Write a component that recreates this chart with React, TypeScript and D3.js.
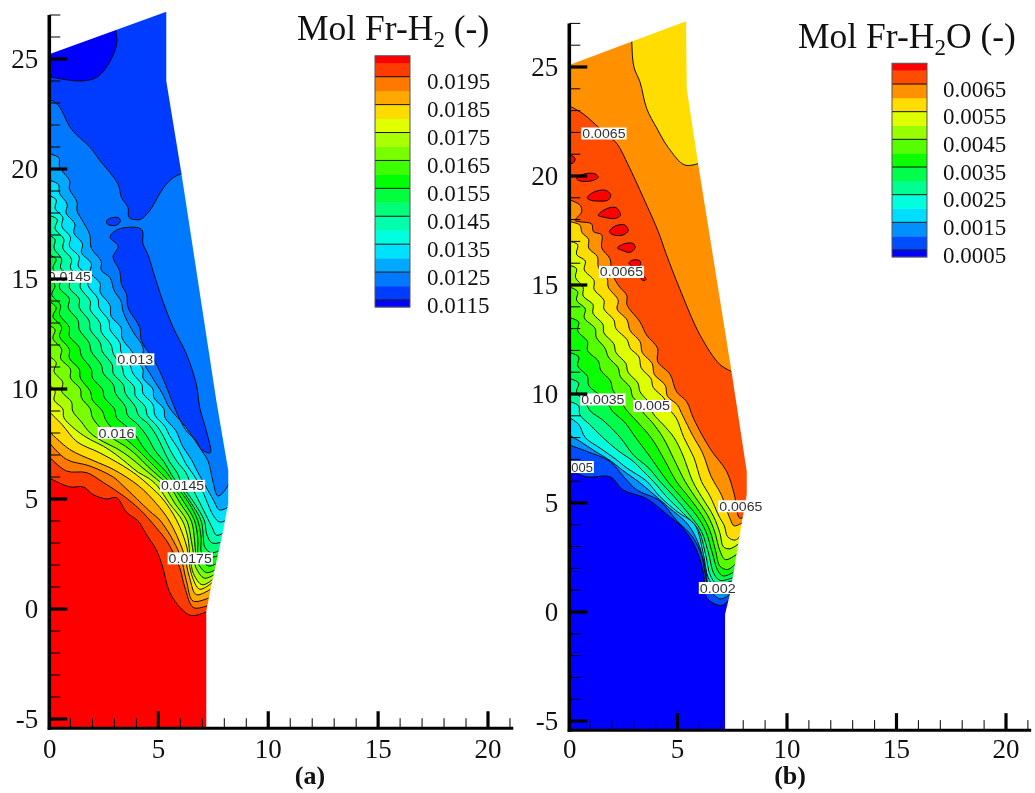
import React from "react";
import * as d3 from "d3";

type P = [number, number];

// ---------- Panel (a): Mol Fr-H2 ----------
const domainA: P[] = [[0,-5.45],[7.18,-5.45],[7.18,-0.1],[7.48,1.42],[7.94,3.55],[8.18,4.8],[8.18,6.3],[7.64,9.45],[6.05,19.8],[5.36,24],[5.36,27.15],[0,25.2]];
const ticksLabelA = [-5,0,5,10,15,20,25];
const legendLevelsA = [0.0115,0.0125,0.0135,0.0145,0.0155,0.0165,0.0175,0.0185,0.0195];
const legendColorsA = ["#0000ff","#003cff","#0078ff","#00a8ff","#00e0ff","#00ffe0","#00ffaa","#00ff78","#00ff3c","#00ff00","#3cff00","#78ff00","#aaff00","#e0ff00","#ffdc00","#ffa800","#ff7800","#ff3c00","#ff0000"];

const a0115: P[] = [[0,24.2],[1.5,24.0],[2.25,24.2],[2.86,25],[3.12,25.8],[3.06,26.3],[3.06,28]];
const a012: P[] = [[0,23.2],[0.44,22.9],[1.05,21.8],[1.88,21],[2.33,20.4],[3.17,19.3],[3.32,18.7],[3.62,18.25],[3.67,17.8],[4.15,17.7],[4.6,18.1],[5.2,19.1],[5.67,19.6],[6.2,19.85]];
const a012Island: P[] = [[2.8,16.9],[3.17,17.26],[4.23,17.26],[4.3,16.6],[4.53,16.1],[4.76,15.36],[5.2,14.0],[5.67,12.8],[6.27,11.6],[6.73,10.2],[6.88,9.15],[7.18,8.1],[7.36,7.1],[6.95,7.26],[6.73,7.64],[6.27,8.1],[5.8,9],[5.5,9.76],[5.2,10.5],[4.83,11.27],[4.23,12.2],[4.15,12.8],[3.62,13.7],[3.55,14.3],[3.32,14.76],[3.24,15.36],[2.94,16],[3.17,16.5]];
const a012Small: P[] = [[2.64,17.64],[2.8,17.76],[3.17,17.79],[3.27,17.64],[3.1,17.45],[2.7,17.48]];
const a0125: P[] = [[0,20.7],[0.48,20.5],[0.5,20.1],[0.97,19.45],[0.95,19.1],[1.3,18.5],[1.3,18.1],[1.58,17.6],[1.88,17.0],[1.95,16.4],[2.4,15.8],[2.4,15.4],[2.8,15.06],[3.0,14.45],[3.3,14.0],[3.4,13.5],[3.85,12.6],[4.3,11.9],[4.3,11.3],[4.68,10.6],[5.2,9.76],[5.5,9.15],[6.27,8.24],[6.88,7.33],[7.26,6.73],[7.48,5.82],[7.7,5.14],[7.95,5.3],[8.3,5.85]];
const a013: P[] = [[0,19.5],[0.45,19.3],[0.5,18.9],[0.85,18.4],[0.8,18.0],[1.2,17.5],[1.15,17.1],[1.55,16.6],[1.5,16.2],[1.95,15.7],[1.9,15.3],[2.35,14.8],[2.35,14.4],[2.8,13.8],[2.85,13.3],[3.3,12.8],[3.35,12.3],[3.8,11.7],[3.95,11.35],[4.3,10.9],[4.3,10.5],[4.75,10.0],[4.8,9.6],[5.25,9.1],[5.3,8.7],[5.8,8.1],[6.1,7.4],[6.5,6.8],[6.75,6.3],[7.03,5.8],[7.48,5.0],[7.79,4.5],[8.3,4.7]];
const a0135: P[] = [[0,18.8],[0.35,18.6],[0.3,18.2],[0.65,17.8],[0.6,17.4],[1.0,16.9],[0.95,16.5],[1.4,16.0],[1.35,15.6],[1.8,15.1],[1.8,14.7],[2.25,14.1],[2.3,13.7],[2.75,13.1],[2.8,12.7],[3.25,12.1],[3.3,11.7],[3.7,11.1],[3.85,10.7],[4.25,10.2],[4.3,9.8],[4.75,9.3],[4.85,8.8],[5.3,8.3],[5.5,7.9],[5.95,7.2],[6.25,6.6],[6.6,6.1],[6.95,5.5],[7.2,4.9],[7.5,4.25],[7.8,3.95],[8.3,4.15]];
const a014: P[] = [[0,17.9],[0.4,17.7],[0.3,17.3],[0.7,16.8],[0.65,16.4],[1.05,15.9],[1.0,15.5],[1.45,15.0],[1.45,14.6],[1.9,14.0],[1.9,13.6],[2.35,13.0],[2.4,12.6],[2.85,12.0],[2.95,11.6],[3.35,11.0],[3.45,10.6],[3.9,10.1],[3.95,9.7],[4.4,9.2],[4.5,8.8],[4.95,8.3],[5.2,7.9],[5.55,7.2],[5.85,6.7],[6.25,6.2],[6.5,5.6],[6.85,4.9],[7.25,4.1],[7.45,3.7],[7.65,3.35],[8.2,3.6]];
const a0145: P[] = [[0,17.0],[0.3,16.8],[0.25,16.4],[0.6,15.9],[0.55,15.5],[1.0,15.1],[0.95,14.6],[1.4,14.1],[1.4,13.7],[1.85,13.1],[1.9,12.7],[2.35,12.1],[2.45,11.7],[2.9,11.1],[2.95,10.7],[3.4,10.2],[3.5,9.8],[3.95,9.2],[4.1,8.8],[4.55,8.4],[4.9,7.9],[5.2,7.3],[5.5,6.7],[5.85,6.2],[6.1,5.6],[6.65,4.8],[7.1,4.0],[7.2,3.4],[7.45,3.0],[8.1,3.1]];
const a015: P[] = [[0,16.1],[0.35,15.9],[0.2,15.5],[0.55,15.0],[0.5,14.6],[0.95,14.1],[0.9,13.7],[1.35,13.1],[1.4,12.7],[1.85,12.1],[1.95,11.7],[2.4,11.1],[2.5,10.7],[2.95,10.2],[3.05,9.8],[3.5,9.2],[3.6,8.8],[4.05,8.4],[4.45,7.9],[4.85,7.2],[5.25,6.7],[5.6,6.1],[5.95,5.6],[6.5,4.8],[6.95,4.0],[7.05,3.2],[7.1,2.85],[7.4,2.55],[7.95,2.75]];
const a0155: P[] = [[0,15.0],[0.3,14.7],[0.15,14.3],[0.55,13.8],[0.5,13.4],[0.95,12.8],[0.95,12.4],[1.4,11.9],[1.5,11.5],[1.95,10.9],[2.0,10.5],[2.45,10.0],[2.55,9.6],[3.0,9.1],[3.1,8.7],[3.55,8.3],[3.95,7.9],[4.35,7.3],[4.8,6.8],[5.3,6.3],[5.8,5.6],[6.4,4.8],[6.8,4.0],[6.95,3.2],[6.95,2.6],[7.2,2.35],[7.85,2.45]];
const a016: P[] = [[0,14.0],[0.35,13.7],[0.2,13.3],[0.6,12.8],[0.5,12.4],[0.95,11.8],[0.95,11.4],[1.4,10.9],[1.45,10.5],[1.9,9.9],[2.0,9.5],[2.45,9.0],[2.6,8.6],[3.1,8.0],[3.55,7.7],[4.0,7.3],[4.5,6.8],[5.0,6.3],[5.65,5.6],[6.2,4.8],[6.65,4.0],[6.8,3.1],[6.8,2.5],[7.0,2.2],[7.3,1.95],[7.8,2.15]];
const a0165: P[] = [[0,12.9],[0.3,12.7],[0.2,12.3],[0.6,11.8],[0.55,11.4],[1.0,10.9],[1.0,10.5],[1.45,10.0],[1.5,9.6],[1.9,9.1],[2.0,8.7],[2.5,8.1],[3.0,7.7],[3.5,7.4],[4.0,7.0],[4.5,6.5],[5.0,6.05],[5.5,5.6],[6.0,4.8],[6.5,4.0],[6.65,3.1],[6.7,2.5],[6.85,2.0],[7.2,1.65],[7.7,1.85]];
const a017: P[] = [[0,11.5],[0.35,11.2],[0.25,10.8],[0.65,10.3],[0.6,9.9],[1.05,9.4],[1.1,9.0],[1.5,8.5],[1.9,8.0],[2.5,7.6],[3.1,7.3],[3.7,6.9],[4.3,6.4],[4.8,6.0],[5.25,5.6],[5.75,4.8],[6.3,4.0],[6.5,3.1],[6.6,2.5],[6.7,1.9],[7.1,1.4],[7.6,1.6]];
const a0175: P[] = [[0,10.2],[0.3,9.9],[0.25,9.5],[0.65,9.1],[0.7,8.7],[1.3,8.1],[1.9,7.7],[2.5,7.4],[3.1,7.0],[3.6,6.6],[4.1,6.2],[4.55,5.95],[4.95,5.6],[5.5,4.8],[6.1,4.0],[6.35,3.2],[6.45,2.3],[6.6,1.6],[7.0,1.1],[7.55,1.4]];
const a018: P[] = [[0,9],[0.6,8.4],[1.3,7.6],[2.33,7.1],[3.4,6.5],[4.0,6.1],[4.6,5.6],[5.2,5.0],[5.85,4.0],[6.3,2.8],[6.5,1.6],[6.88,0.9],[7.45,1.2]];
const a0185: P[] = [[0,8.1],[0.97,7.25],[2.03,6.75],[2.94,6.35],[4.1,5.6],[4.9,4.8],[5.5,4.0],[6.12,2.64],[6.42,1.42],[6.73,0.65],[7.37,0.9]];
const a019: P[] = [[0,7.6],[0.82,6.8],[1.88,6.5],[2.94,6.0],[3.4,5.6],[4.6,4.45],[5.1,4.0],[5.97,2.5],[6.27,1.3],[6.58,0.36],[7.29,0.5]];
const a0195: P[] = [[0,6.95],[0.82,6.27],[1.73,6.2],[2.48,5.76],[3.4,5.15],[4.15,4.53],[4.9,3.7],[5.44,3.0],[5.97,1.88],[6.2,1.0],[6.6,0.06],[7.22,0.15]];
const a020: P[] = [[0,5.97],[0.97,5.55],[1.58,5.55],[2.03,5.2],[2.64,5.0],[3.1,5.06],[3.55,4.4],[4.08,4.0],[4.45,3.4],[4.9,2.7],[5.2,1.9],[5.5,0.8],[6,0.06],[6.5,-0.3],[7.25,-0.1]];
const labelsA: [string, number, number][] = [["0.0145",0.95,15.1],["0.013",3.95,11.35],["0.016",3.1,8.0],["0.0145",6.1,5.6],["0.0175",6.45,2.3]];

// ---------- Panel (b): Mol Fr-H2O ----------
const domainB: P[] = [[0,-5.45],[7.08,-5.45],[7.08,-0.1],[7.3,0.8],[7.7,3.25],[8.07,5.4],[8.07,6.45],[7.38,11],[5.86,20.5],[5.33,24],[5.3,27.1],[0,25.1]];
const ticksLabelB = [-5,0,5,10,15,20,25];
const legendLevelsB = [0.0005,0.0015,0.0025,0.0035,0.0045,0.0055,0.0065];
const legendColorsB = ["#0000ff","#004cff","#0090ff","#00ddff","#00ffdd","#00ff90","#00ff4c","#0cff00","#55ff00","#99ff00","#ddff00","#ffdd00","#ff9000","#ff4c00","#ff0000"];

const b006Upper: P[] = [[2.82,28],[2.82,26.2],[2.92,25],[3.2,24.3],[3.5,23.1],[3.96,22.2],[4.49,21.3],[5.25,20.5],[5.95,20.6]];
const b0065Upper: P[] = [[0,23.2],[0.6,22.85],[1.45,22.1],[2.13,21.5],[2.66,20.5],[3.35,19],[4.03,17.45],[4.4,16.4],[5.0,14.85],[5.94,12.7],[6.85,11.35],[7.45,11]];
const blobs: P[][] = [
  [[-0.1,21.0],[0.23,20.8],[0.15,20.6],[-0.1,20.6]],
  [[0.3,19.9],[0.68,20.1],[1.14,20.1],[1.29,19.95],[1.07,19.8],[0.68,19.75],[0.38,19.8]],
  [[0.79,19],[1.06,19.25],[1.6,19.35],[1.86,19.15],[1.75,18.9],[1.22,18.85],[0.91,18.9]],
  [[1.29,18.2],[1.67,18.5],[2.1,18.55],[2.31,18.2],[2.05,18.05],[1.6,18.1]],
  [[1.8,17.45],[2.05,17.7],[2.51,17.75],[2.66,17.5],[2.44,17.3],[1.98,17.3]],
  [[2.16,16.7],[2.51,16.9],[2.89,16.9],[2.97,16.7],[2.74,16.5],[2.36,16.6]],
  [[2.69,16],[2.89,16.15],[3.2,16.1],[3.2,15.9],[2.89,15.85]],
  [[3.24,15.3],[3.38,15.4],[3.47,15.25],[3.35,15.2]],
];
const b0065: P[] = [[0,18.9],[0.46,18.66],[0.53,18.35],[0.23,17.96],[0.46,17.9],[0.99,17.8],[1.07,17.45],[1.45,17.3],[1.45,16.7],[1.83,16.2],[1.9,15.6],[2.2,15.0],[2.6,14.5],[2.6,14.1],[3.2,13.3],[3.5,12.7],[4.0,12.1],[4.0,11.5],[4.57,10.9],[4.87,10.1],[5.33,9.65],[5.63,8.9],[6.39,7.5],[7.15,6.45],[7.5,5.4],[7.76,4.3],[8.2,4.55]];
const b006: P[] = [[0,17.9],[0.45,17.75],[0.55,17.4],[0.85,17.1],[0.85,16.7],[1.25,16.3],[1.3,15.8],[1.7,15.3],[1.75,14.9],[2.2,14.3],[2.15,13.9],[2.6,13.4],[2.75,12.9],[3.2,12.4],[3.3,11.9],[3.75,11.4],[3.85,10.9],[4.35,10.4],[4.45,9.9],[4.9,9.5],[5.15,9],[5.6,8.1],[6.05,7.3],[6.45,6.2],[6.9,5.4],[7.3,4.3],[7.5,3.95],[8.1,4.25]];
const b0055: P[] = [[0,17.0],[0.35,16.85],[0.3,16.4],[0.7,16.1],[0.65,15.7],[1.1,15.2],[1.1,14.8],[1.55,14.3],[1.55,13.9],[2.0,13.4],[2.1,13.0],[2.6,12.5],[2.75,12.1],[3.15,11.7],[3.25,11.2],[3.7,10.7],[3.8,10.3],[4.3,9.8],[4.45,9.4],[4.85,8.9],[5.2,8],[5.65,7.1],[6.0,6],[6.4,5.3],[6.8,4.4],[7.05,3.95],[7.2,3.45],[7.55,3.3],[7.95,3.7]];
const b005: P[] = [[0,15.9],[0.3,15.75],[0.25,15.35],[0.6,14.9],[0.6,14.5],[1.05,14.1],[1.05,13.7],[1.5,13.2],[1.55,12.8],[2,12.3],[2.1,11.9],[2.55,11.4],[2.65,11.0],[3.1,10.5],[3.2,10.1],[3.65,9.55],[3.8,9.1],[4.25,8.6],[4.75,8],[5.15,7.2],[5.6,6],[6.0,5.3],[6.55,4.4],[6.85,3.6],[7.0,3.0],[7.3,2.9],[7.85,3.25]];
const b0045: P[] = [[0,14.9],[0.35,14.7],[0.3,14.3],[0.7,13.9],[0.65,13.5],[1.15,13],[1.2,12.6],[1.6,12.1],[1.75,11.7],[2.2,11.2],[2.3,10.8],[2.75,10.3],[2.85,9.9],[3.1,9.6],[3.3,9.2],[3.75,8.7],[4.25,8],[4.75,7.0],[5.25,6],[5.7,5.3],[6.3,4.4],[6.6,3.7],[6.85,2.8],[7.1,2.4],[7.75,2.75]];
const b004: P[] = [[0,13.5],[0.4,13.3],[0.35,12.9],[0.8,12.4],[0.8,12],[1.3,11.5],[1.4,11.1],[1.85,10.6],[1.95,10.2],[2.3,9.7],[2.55,9.3],[3.0,8.8],[3.7,8],[4.3,7],[4.85,6],[5.4,5.3],[6.05,4.4],[6.4,3.7],[6.65,2.8],[6.85,2.1],[7.2,1.95],[7.65,2.3]];
const b0035: P[] = [[0,11.9],[0.4,11.7],[0.35,11.3],[0.8,10.8],[0.85,10.4],[1.3,10],[1.6,9.75],[1.95,9.2],[2.5,8.7],[3.0,8],[3.6,7.2],[4.45,6],[5.05,5.3],[5.8,4.4],[6.2,3.7],[6.5,2.7],[6.75,1.9],[7.0,1.65],[7.6,1.9]];
const b003: P[] = [[0,10.7],[0.4,10.5],[0.3,10.1],[0.7,9.6],[0.95,9.2],[1.5,8.8],[2.3,8],[2.9,7.2],[3.6,6.6],[4.1,6],[4.75,5.3],[5.5,4.4],[6.0,3.7],[6.35,2.6],[6.55,1.8],[6.85,1.45],[7.5,1.6]];
const b0025: P[] = [[0,9.65],[0.4,9.45],[0.45,9.05],[0.9,8.6],[1.5,8],[2.2,7.4],[2.9,6.9],[3.3,6.5],[3.8,6],[4.4,5.3],[5.2,4.5],[5.85,3.8],[6.2,2.6],[6.4,1.7],[6.7,1.3],[7.45,1.45]];
const b002: P[] = [[0,8.9],[0.4,8.6],[0.7,8],[1.4,7.5],[2.1,7],[2.6,6.6],[3.5,6],[4.1,5.3],[4.9,4.6],[5.7,4],[6.1,2.6],[6.3,1.6],[6.65,1.15],[7.4,1.25]];
const b0015: P[] = [[0,8.1],[0.5,7.8],[1.1,7.4],[1.9,6.9],[2.4,6.5],[3.1,6],[3.7,5.5],[4.5,4.8],[5.4,4],[5.95,2.9],[6.2,1.6],[6.4,1.0],[6.8,0.85],[7.35,1.05]];
const b001: P[] = [[0,7.65],[0.76,7.37],[1.83,6.9],[2.5,6.15],[3.05,5.6],[4.1,5.1],[4.87,4.2],[5.63,3.4],[6.15,2.2],[6.35,1.1],[6.85,0.6],[7.35,0.85]];
const b0005: P[] = [[0,6.5],[0.76,6.2],[1.83,6.2],[2.43,5.6],[3.5,5.2],[4.4,4.5],[5.2,3.8],[5.8,2.8],[6.1,1.75],[6.25,0.65],[6.9,0.3],[7.3,0.6]];
const labelsB: [string, number, number][] = [["0.0065",1.55,21.95],["0.0065",2.35,15.6],["0.0035",1.5,9.75],["0.005",3.75,9.45],["005",0.55,6.65],["0.0065",7.8,4.85],["0.002",6.75,1.1]];

type Layer = { pts: P[]; fill: string; closed?: boolean };

const layersA: Layer[] = [
  { pts: a0115, fill: legendColorsA[1] },
  { pts: a012, fill: legendColorsA[2] },
  { pts: a012Island, fill: legendColorsA[1], closed: true },
  { pts: a012Small, fill: legendColorsA[1], closed: true },
  { pts: a0125, fill: legendColorsA[3] },
  { pts: a013, fill: legendColorsA[4] },
  { pts: a0135, fill: legendColorsA[5] },
  { pts: a014, fill: legendColorsA[6] },
  { pts: a0145, fill: legendColorsA[7] },
  { pts: a015, fill: legendColorsA[8] },
  { pts: a0155, fill: legendColorsA[9] },
  { pts: a016, fill: legendColorsA[10] },
  { pts: a0165, fill: legendColorsA[11] },
  { pts: a017, fill: legendColorsA[12] },
  { pts: a0175, fill: legendColorsA[13] },
  { pts: a018, fill: legendColorsA[14] },
  { pts: a0185, fill: legendColorsA[15] },
  { pts: a019, fill: legendColorsA[16] },
  { pts: a0195, fill: legendColorsA[17] },
  { pts: a020, fill: legendColorsA[18] },
];

const layersB: Layer[] = [
  { pts: b006Upper, fill: legendColorsB[12] },
  { pts: b0065Upper, fill: legendColorsB[13] },
  ...blobs.map((pts): Layer => ({ pts, fill: legendColorsB[14], closed: true })),
  { pts: b0065, fill: legendColorsB[12] },
  { pts: b006, fill: legendColorsB[11] },
  { pts: b0055, fill: legendColorsB[10] },
  { pts: b005, fill: legendColorsB[9] },
  { pts: b0045, fill: legendColorsB[8] },
  { pts: b004, fill: legendColorsB[7] },
  { pts: b0035, fill: legendColorsB[6] },
  { pts: b003, fill: legendColorsB[5] },
  { pts: b0025, fill: legendColorsB[4] },
  { pts: b002, fill: legendColorsB[3] },
  { pts: b0015, fill: legendColorsB[2] },
  { pts: b001, fill: legendColorsB[1] },
  { pts: b0005, fill: legendColorsB[0] },
];

const SERIF = "'Liberation Serif','Times New Roman',serif";
const SANS = "'Liberation Sans',Arial,sans-serif";

function Field(props: {
  x: d3.ScaleLinear<number, number>;
  y: d3.ScaleLinear<number, number>;
  domain: P[];
  base: string;
  layers: Layer[];
}) {
  const { x, y, domain, base, layers } = props;
  const straight = d3.line<P>().x((d) => x(d[0])).y((d) => y(d[1]));
  const smooth = d3.line<P>().x((d) => x(d[0])).y((d) => y(d[1])).curve(d3.curveCatmullRom.alpha(0.5));
  const smoothClosed = d3.line<P>().x((d) => x(d[0])).y((d) => y(d[1])).curve(d3.curveCatmullRomClosed.alpha(0.5));
  const region = (l: Layer) => {
    if (l.closed) return smoothClosed(l.pts) as string;
    const s = l.pts[0];
    const e = l.pts[l.pts.length - 1];
    const around: P[] = [[10, e[1]], [10, -7], [-2, -7], [-2, 32], [s[0], 32]];
    const tail = around.map((p) => `L${x(p[0])},${y(p[1])}`).join("");
    return `${smooth(l.pts)}${tail}Z`;
  };
  const stroke = (l: Layer) => (l.closed ? smoothClosed(l.pts) : smooth(l.pts)) as string;
  const baseFrame: P[] = [[-2, -7], [10, -7], [10, 32], [-2, 32]];
  const maskFrame: P[] = [[-3, -9], [12, -9], [12, 34], [-3, 34]];
  return (
    <g>
      <path d={`${straight(baseFrame)}Z`} fill={base} />
      {layers.map((l, i) => (
        <path key={i} d={region(l)} fill={l.fill} />
      ))}
      {layers.map((l, i) => (
        <path key={i} d={stroke(l)} fill="none" stroke="#0a0a0a" strokeWidth={1} />
      ))}
      <path d={`${straight(maskFrame)}Z${straight(domain)}Z`} fill="#fff" fillRule="evenodd" stroke="none" />
    </g>
  );
}

function Labels(props: {
  x: d3.ScaleLinear<number, number>;
  y: d3.ScaleLinear<number, number>;
  labels: [string, number, number][];
}) {
  const { x, y, labels } = props;
  return (
    <g>
      {labels.map(([t, vx, vy], i) => {
        const w = t.length * 7.2;
        return (
          <g key={i}>
            <rect x={x(vx) - w / 2 - 1} y={y(vy) - 6} width={w + 2} height={12} fill="#fff" />
            <text x={x(vx) - w / 2} y={y(vy) + 4.5} textLength={w} lengthAdjust="spacingAndGlyphs" fontFamily={SANS} fontSize={13} fill="#333">{t}</text>
          </g>
        );
      })}
    </g>
  );
}

function Axes(props: {
  x: d3.ScaleLinear<number, number>;
  y: d3.ScaleLinear<number, number>;
  xMax: number;
  yMax: number;
  yMin: number;
  spine: number;
  yTickValues: number[];
  caption: string;
  captionAt: number;
}) {
  const { x, y, xMax, yMax, yMin, spine, yTickValues, caption, captionAt } = props;
  const bottom = y(yMin);
  const minorY = d3.range(-5, Math.floor(yMax) + 1);
  const minorX = d3.range(1, Math.floor(xMax) + 1);
  return (
    <g>
      <line x1={spine} x2={spine} y1={y(yMax)} y2={bottom + 1.5} stroke="#000" strokeWidth={3.6} />
      <line x1={spine - 1.5} x2={x(xMax)} y1={bottom} y2={bottom} stroke="#000" strokeWidth={3} />
      {minorY.map((v) => {
        const major = v % 5 === 0;
        return <line key={v} x1={spine} x2={spine + (major ? 18 : 11)} y1={y(v)} y2={y(v)} stroke="#000" strokeWidth={major ? 3.2 : 1} />;
      })}
      {minorX.map((v) => {
        const major = v % 5 === 0;
        return <line key={v} x1={x(v)} x2={x(v)} y1={bottom} y2={bottom - (major ? 17 : 10)} stroke="#000" strokeWidth={major ? 3.2 : 1} />;
      })}
      {yTickValues.map((v) => (
        <text key={v} x={spine - 11} y={y(v) + 9} textAnchor="end" fontFamily={SERIF} fontSize={27} fill="#111">{v}</text>
      ))}
      {d3.range(0, 21, 5).map((v) => (
        <text key={v} x={v === 0 ? spine + 0.5 : x(v)} y={758} textAnchor="middle" fontFamily={SERIF} fontSize={27} fill="#111">{v}</text>
      ))}
      <text x={x(captionAt)} y={784} textAnchor="middle" fontFamily={SERIF} fontSize={26} fontWeight="bold" fill="#111">{caption}</text>
    </g>
  );
}

function Legend(props: {
  colors: string[];
  levels: number[];
  xLeft: number;
  width: number;
  scale: d3.ScaleLinear<number, number>;
  step: number;
  labelX: number;
  labelDy: number;
}) {
  const { colors, levels, xLeft, width, scale, step, labelX, labelDy } = props;
  const first = levels[0];
  const fmt = d3.format(".4f");
  const n = colors.length;
  const topValue = first + (n - 2) * step + step / 2;
  const top = scale(topValue);
  const bottom = scale(first - step / 2);
  return (
    <g>
      {colors.map((c, i) => {
        const lo = i === 0 ? first - step / 2 : first + (i - 1) * step;
        const hi = i === 0 ? first : i === n - 1 ? topValue : first + i * step;
        return <rect key={c} x={xLeft} width={width} y={scale(hi)} height={scale(lo) - scale(hi) + 0.4} fill={c} />;
      })}
      {levels.map((v) => (
        <line key={v} x1={xLeft} x2={xLeft + width} y1={scale(v)} y2={scale(v)} stroke="#111" strokeWidth={1} />
      ))}
      <rect x={xLeft} y={top} width={width} height={bottom - top} fill="none" stroke="#555" strokeWidth={1} />
      {levels.map((v) => (
        <text key={v} x={labelX} y={scale(v) + labelDy} fontFamily={SERIF} fontSize={23} fill="#111">{fmt(v)}</text>
      ))}
    </g>
  );
}

export default function App() {
  const xA = d3.scaleLinear().domain([0, 20]).range([48.5, 488]);
  const yA = d3.scaleLinear().domain([-5, 25]).range([719, 59]);
  const xB = d3.scaleLinear().domain([0, 20]).range([568, 1006]);
  const xBField = d3.scaleLinear().domain([0, 20]).range([570, 1008]);
  const yB = d3.scaleLinear().domain([-5, 25]).range([721, 67]);
  const legA = d3.scaleLinear().domain([0.0115, 0.0195]).range([300, 76.7]);
  const legB = d3.scaleLinear().domain([0.0005, 0.0065]).range([250, 84]);
  return (
    <svg width={1035} height={793} style={{ position: "absolute", left: 0, top: 0, background: "#fff", filter: "blur(0.4px)" }}>
      <Field x={xA} y={yA} domain={domainA} base={legendColorsA[0]} layers={layersA} />
      <Field x={xBField} y={yB} domain={domainB} base={legendColorsB[11]} layers={layersB} />
      <Labels x={xA} y={yA} labels={labelsA} />
      <Labels x={xBField} y={yB} labels={labelsB} />

      <Axes x={xA} y={yA} xMax={21.15} yMax={27} yMin={-5.42} spine={49.3} yTickValues={ticksLabelA} caption="(a)" captionAt={11.9} />
      <text x={297} y={40} fontFamily={SERIF} fontSize={35.5} fill="#111">
        Mol Fr-H<tspan fontSize={23} dy={7}>2</tspan><tspan dy={-7}> (-)</tspan>
      </text>
      <Legend colors={legendColorsA} levels={legendLevelsA} xLeft={375} width={35} scale={legA} step={0.0005} labelX={427} labelDy={12.5} />

      <Axes x={xB} y={yB} xMax={21.15} yMax={27} yMin={-5.42} spine={569.3} yTickValues={ticksLabelB} caption="(b)" captionAt={10.14} />
      <text x={798} y={48} fontFamily={SERIF} fontSize={35.5} fill="#111">
        Mol Fr-H<tspan fontSize={23} dy={7}>2</tspan><tspan dy={-7}>O (-)</tspan>
      </text>
      <Legend colors={legendColorsB} levels={legendLevelsB} xLeft={892} width={35} scale={legB} step={0.0005} labelX={943} labelDy={12.5} />
    </svg>
  );
}
